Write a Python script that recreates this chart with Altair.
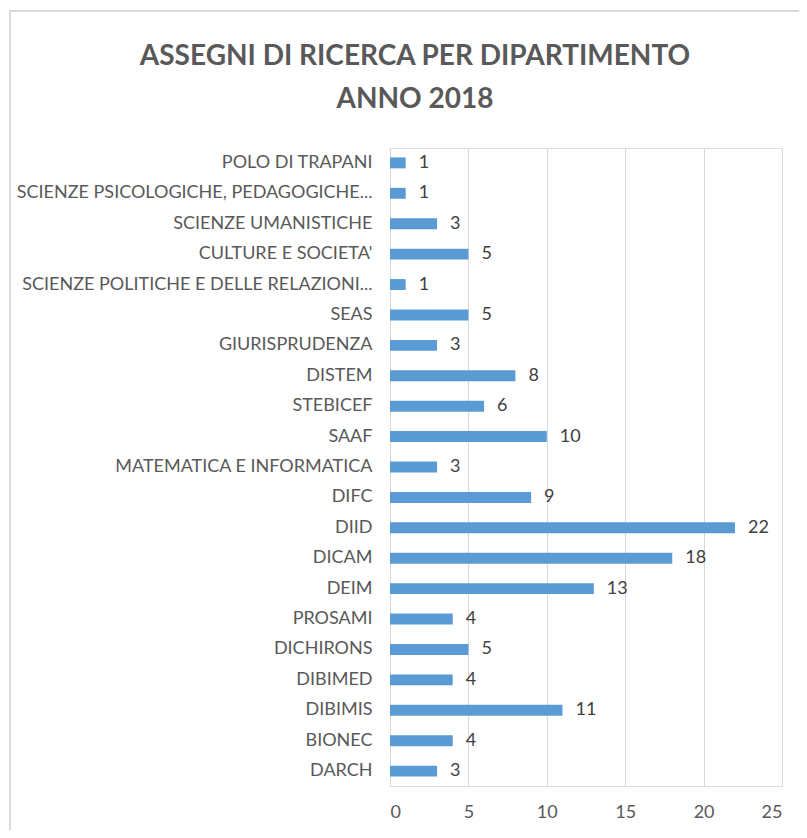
import altair as alt
import pandas as pd

departments = [
    "POLO DI TRAPANI",
    "SCIENZE PSICOLOGICHE, PEDAGOGICHE...",
    "SCIENZE UMANISTICHE",
    "CULTURE E SOCIETA'",
    "SCIENZE POLITICHE E DELLE RELAZIONI...",
    "SEAS",
    "GIURISPRUDENZA",
    "DISTEM",
    "STEBICEF",
    "SAAF",
    "MATEMATICA E INFORMATICA",
    "DIFC",
    "DIID",
    "DICAM",
    "DEIM",
    "PROSAMI",
    "DICHIRONS",
    "DIBIMED",
    "DIBIMIS",
    "BIONEC",
    "DARCH",
]
values = [1, 1, 3, 5, 1, 5, 3, 8, 6, 10, 3, 9, 22, 18, 13, 4, 5, 4, 11, 4, 3]
x_ticks = [0, 5, 10, 15, 20, 25]
title_line1 = "ASSEGNI DI RICERCA PER DIPARTIMENTO"
title_line2 = "ANNO 2018"

df = pd.DataFrame({"dept": departments, "n": values})

FONT = "Lato"
GREY = "#595959"

y_enc = alt.Y(
    "dept:N",
    sort=departments,
    title=None,
    scale=alt.Scale(paddingInner=0.64, paddingOuter=0.31),
    axis=alt.Axis(
        domain=False, ticks=False, labelFont=FONT, labelFontSize=18,
        labelColor=GREY, labelPadding=18, labelLimit=400, grid=False,
    ),
)
x_enc = alt.X(
    "n:Q",
    title=None,
    scale=alt.Scale(domain=[0, 25], nice=False),
    axis=alt.Axis(
        values=x_ticks, domain=False, ticks=False, grid=True, gridColor="#D9D9D9",
        gridWidth=1, labelFont=FONT, labelFontSize=18, labelColor=GREY,
        labelPadding=17,
    ),
)

bars = alt.Chart(df).mark_bar(color="#5B9BD5").encode(x=x_enc, y=y_enc)
labels = alt.Chart(df).mark_text(
    align="left", baseline="middle", dx=13, font=FONT, fontSize=18, fill="#404040"
).encode(x="n:Q", y=alt.Y("dept:N", sort=departments), text="n:Q")

frame = alt.Chart(df).mark_rect(
    fill=None, stroke="#D9D9D9", strokeWidth=2
).encode(
    x=alt.value(-380), x2=alt.value(430), y=alt.value(-137), y2=alt.value(720)
)

title_style = dict(align="center", baseline="middle", font=FONT, fontSize=28,
                   fontWeight="bold", fill=GREY, strokeWidth=0)
t1 = alt.Chart(pd.DataFrame({"t": [title_line1]})).mark_text(**title_style).encode(
    text="t:N", x=alt.value(25), y=alt.value(-91))
t2 = alt.Chart(pd.DataFrame({"t": [title_line2]})).mark_text(**title_style).encode(
    text="t:N", x=alt.value(25), y=alt.value(-48))

chart = alt.layer(frame, bars, labels, t1, t2).properties(
    width=392,
    height=638,
    padding={"left": 382, "top": 140, "right": 17, "bottom": 44},
    autosize=alt.AutoSizeParams(type="none"),
).configure_view(stroke=None).configure(background="white")

chart.save("out.html", embed_options={"renderer": "svg", "actions": False})
